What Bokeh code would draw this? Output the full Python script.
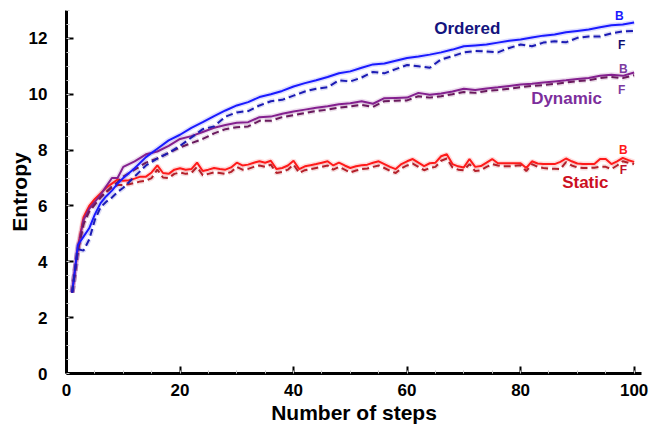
from bokeh.plotting import figure
from bokeh.models import SingleIntervalTicker, Range1d
from bokeh.core.properties import value
from bokeh.embed import file_html
from bokeh.resources import INLINE

# ---------------- data ----------------
steps_bp = [1, 2, 3, 4, 5, 6, 7, 8, 9, 10] + list(range(12, 101, 2))

ordered_b = [2.9, 4.6, 4.9, 5.2, 5.7, 6.1, 6.35, 6.55, 6.8, 7.0,
             7.35, 7.75, 8.05, 8.35, 8.55, 8.8, 9.0, 9.22, 9.42, 9.6,
             9.72, 9.9, 10.0, 10.12, 10.28, 10.4, 10.5, 10.62, 10.75, 10.82,
             10.95, 11.07, 11.1, 11.2, 11.3, 11.35, 11.42, 11.5, 11.6, 11.72,
             11.75, 11.78, 11.85, 11.92, 11.96, 12.03, 12.1, 12.14, 12.22, 12.27,
             12.32, 12.4, 12.47, 12.5, 12.57]

ordered_f = [2.9, 4.45, 4.4, 4.8, 5.5, 5.95, 6.15, 6.3, 6.5, 6.65,
             7.05, 7.45, 7.7, 7.9, 8.15, 8.45, 8.75, 8.85, 9.2, 9.35,
             9.4, 9.6, 9.75, 9.8, 9.95, 10.1, 10.2, 10.25, 10.5, 10.46,
             10.6, 10.8, 10.75, 10.9, 11.05, 11.0, 10.95, 11.25, 11.36, 11.5,
             11.55, 11.53, 11.5, 11.66, 11.78, 11.72, 11.85, 11.9, 11.86, 12.02,
             12.07, 12.07, 12.18, 12.25, 12.27]

dynamic_b = [2.9, 4.5, 5.5, 5.9, 6.15, 6.4, 6.7, 7.0, 7.0, 7.4,
             7.6, 7.85, 7.95, 8.15, 8.4, 8.5, 8.65, 8.8, 8.9, 8.98,
             9.0, 9.18, 9.2, 9.3, 9.38, 9.45, 9.52, 9.57, 9.64, 9.68,
             9.75, 9.66, 9.86, 9.87, 9.88, 10.05, 9.98, 10.03, 10.1, 10.2,
             10.15, 10.21, 10.25, 10.3, 10.35, 10.38, 10.42, 10.46, 10.5, 10.55,
             10.58, 10.66, 10.7, 10.66, 10.78]

dynamic_f = [2.9, 4.4, 5.35, 5.8, 6.05, 6.3, 6.5, 6.7, 6.85, 7.05,
             7.3, 7.55, 7.7, 7.9, 8.1, 8.25, 8.4, 8.6, 8.75, 8.82,
             8.85, 9.05, 9.05, 9.18, 9.25, 9.33, 9.4, 9.45, 9.52, 9.57,
             9.62, 9.55, 9.75, 9.77, 9.78, 9.93, 9.88, 9.93, 10.0, 10.08,
             10.05, 10.12, 10.15, 10.2, 10.25, 10.3, 10.33, 10.37, 10.42, 10.47,
             10.5, 10.58, 10.62, 10.58, 10.68]

steps_st = list(range(1, 101))

static_b = [2.9, 4.5, 5.6, 6.0, 6.25, 6.45, 6.65, 6.8, 6.95, 6.9,
            6.92, 6.98, 7.05, 7.05, 7.2, 7.45, 7.18, 7.15, 7.3, 7.35,
            7.3, 7.32, 7.55, 7.25, 7.3, 7.36, 7.32, 7.3, 7.38, 7.55,
            7.45, 7.48, 7.55, 7.6, 7.55, 7.62, 7.32, 7.36, 7.45, 7.62,
            7.32, 7.42, 7.46, 7.5, 7.55, 7.6, 7.45, 7.55, 7.45, 7.36,
            7.42, 7.46, 7.48, 7.55, 7.6, 7.5, 7.4, 7.32, 7.5, 7.6,
            7.68, 7.55, 7.43, 7.53, 7.55, 7.78, 7.85, 7.5, 7.42, 7.38,
            7.68, 7.4, 7.43, 7.55, 7.68, 7.53, 7.53, 7.53, 7.53, 7.53,
            7.36, 7.6, 7.52, 7.5, 7.5, 7.5, 7.58, 7.7, 7.6, 7.52,
            7.5, 7.5, 7.5, 7.68, 7.68, 7.5, 7.6, 7.72, 7.64, 7.58]

static_f = [2.9, 4.4, 5.4, 5.9, 6.15, 6.35, 6.5, 6.65, 6.75, 6.75,
            6.78, 6.82, 6.88, 6.9, 7.0, 7.3, 7.02, 7.0, 7.15, 7.2,
            7.15, 7.18, 7.4, 7.1, 7.15, 7.2, 7.18, 7.15, 7.22, 7.4,
            7.3, 7.33, 7.4, 7.45, 7.4, 7.48, 7.18, 7.22, 7.3, 7.48,
            7.18, 7.28, 7.32, 7.36, 7.4, 7.45, 7.3, 7.4, 7.3, 7.2,
            7.27, 7.32, 7.34, 7.4, 7.45, 7.36, 7.26, 7.18, 7.35, 7.45,
            7.52, 7.4, 7.28, 7.36, 7.4, 7.62, 7.7, 7.38, 7.3, 7.28,
            7.5, 7.25, 7.28, 7.4, 7.5, 7.45, 7.42, 7.42, 7.44, 7.46,
            7.25, 7.5, 7.4, 7.36, 7.34, 7.33, 7.32, 7.57, 7.45, 7.38,
            7.36, 7.36, 7.37, 7.4, 7.4, 7.32, 7.45, 7.6, 7.55, 7.5]

name_labels = ["Ordered", "Dynamic", "Static"]
name_x = [70.6, 88.1, 91.4]
name_y = [12.36, 9.85, 6.84]

bf_labels = ["B", "F", "B", "F", "B", "F"]
bf_x = [97.4, 97.8, 98.1, 97.8, 98.1, 98.1]
bf_y = [12.79, 11.75, 10.92, 10.17, 7.99, 7.27]

x_ticks_interval = 20
y_ticks_interval = 2

# ---------------- styles ----------------
FONT = "Liberation Sans"
C_BLUE_B, C_BLUE_F = "#1a1aff", "#1c1cb4"
C_PURP_B, C_PURP_F = "#84208f", "#6a1a5e"
C_RED_B, C_RED_F = "#ff1a1a", "#b4202a"

p = figure(width=663, height=427, output_backend="svg", toolbar_location=None,
           x_range=Range1d(0, 101.3), y_range=Range1d(0, 13),
           min_border_left=66, min_border_right=22, min_border_top=10,
           min_border_bottom=54, background_fill_color="white",
           border_fill_color="white")
p.outline_line_color = None
p.grid.visible = False

series = [
    (steps_st, static_b, C_RED_B, "solid"),
    (steps_st, static_f, C_RED_F, "7 4"),
    (steps_bp, dynamic_b, C_PURP_B, "solid"),
    (steps_bp, dynamic_f, C_PURP_F, "7 4"),
    (steps_bp, ordered_b, C_BLUE_B, "solid"),
    (steps_bp, ordered_f, C_BLUE_F, "7 4"),
]
for xs, ys, c, d in series:
    p.line(xs, ys, line_color=c, line_width=5, line_alpha=0.15, line_dash=d)
for xs, ys, c, d in series:
    p.line(xs, ys, line_color=c, line_width=2, line_dash=d)

p.text(x=name_x, y=name_y, text=name_labels,
       text_color=["#14147e", "#7c2e9c", "#cc1022"],
       text_font=value(FONT), text_font_style="bold", text_font_size="17px",
       text_align="center", text_baseline="middle")
p.text(x=bf_x, y=bf_y, text=bf_labels,
       text_color=[C_BLUE_B, "#101070", "#7c3aa0", "#7c3aa0", C_RED_B, "#c0102a"],
       text_font=value(FONT), text_font_style="bold", text_font_size="12px",
       text_align="center", text_baseline="middle")

p.xaxis.ticker = SingleIntervalTicker(interval=x_ticks_interval, num_minor_ticks=4)
p.yaxis.ticker = SingleIntervalTicker(interval=y_ticks_interval, num_minor_ticks=4)
for ax in (p.xaxis, p.yaxis):
    ax.axis_line_width = 3
    ax.axis_line_color = "black"
    ax.major_tick_in = 7
    ax.major_tick_out = 0
    ax.major_tick_line_width = 2
    ax.minor_tick_in = 3
    ax.minor_tick_out = 0
    ax.minor_tick_line_color = "#c8c8c8"
    ax.major_label_text_font = FONT
    ax.major_label_text_font_style = "bold"
    ax.major_label_text_font_size = "17px"
    ax.major_label_text_color = "black"
    ax.axis_label_text_font = FONT
    ax.axis_label_text_font_style = "bold"
    ax.axis_label_text_font_size = "21px"
    ax.axis_label_text_color = "black"
p.xaxis.axis_label = "Number of steps"
p.yaxis.axis_label = "Entropy"
p.xaxis.major_label_standoff = 10
p.yaxis.major_label_standoff = 19
p.xaxis.axis_label_standoff = 2
p.yaxis.axis_label_standoff = -5

open("out.html", "w").write(file_html(p, INLINE))
